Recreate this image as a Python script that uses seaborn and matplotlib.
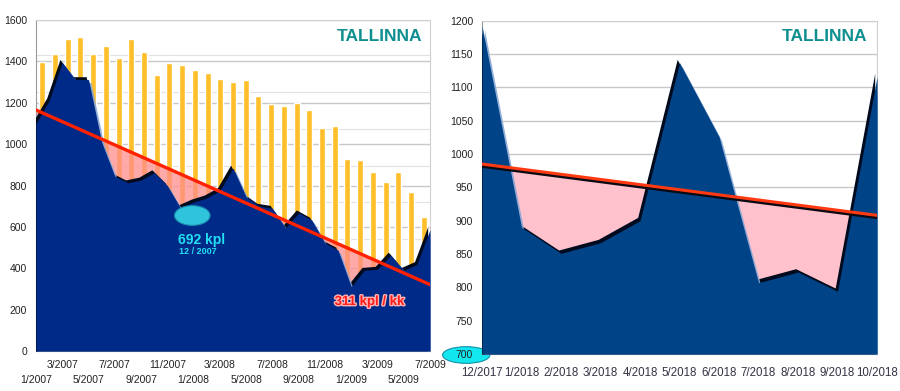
"""
Tallinna: monthly counts 2007-2009 and 2017-2018 with trend lines
"""
import matplotlib
matplotlib.use("Agg")
import matplotlib.pyplot as plt
import matplotlib.patheffects as pe
from matplotlib.patches import Ellipse
import seaborn as sns
import numpy as np

# ---- data: left panel (1/2007 .. 7/2009) ----
left_months = list(range(31))
left_bars = [1395, 1437, 1510, 1520, 1434, 1476, 1418, 1510, 1445, 1336,
             1391, 1384, 1359, 1344, 1313, 1299, 1310, 1233, 1194, 1185,
             1201, 1164, 1080, 1086, 929, 922, 866, 819, 866, 768, 650]
left_area = [1100, 1210, 1395, 1312, 1312, 1010, 845, 813, 826, 862,
             800, 692, 720, 740, 775, 885, 745, 700, 690, 595,
             668, 633, 522, 488, 311, 390, 395, 464, 390, 418, 587]
left_trend_x = [0, 30]
left_trend_y = [1165, 321]
left_ticklabels = ["1/2007", "3/2007", "5/2007", "7/2007", "9/2007", "11/2007",
                   "1/2008", "3/2008", "5/2008", "7/2008", "9/2008", "11/2008",
                   "1/2009", "3/2009", "5/2009", "7/2009"]

# ---- data: right panel (12/2017 .. 10/2018) ----
right_months = list(range(11))
right_area = [1192, 890, 851, 867, 900, 1137, 1026, 807, 823, 794, 1116]
right_trend_x = [0, 10]
right_trend_y = [985, 908]
right_ticklabels = ["12/2017", "1/2018", "2/2018", "3/2018", "4/2018", "5/2018",
                    "6/2018", "7/2018", "8/2018", "9/2018", "10/2018"]

sns.set_style("white")
plt.rcParams['font.family'] = ['Liberation Sans', 'DejaVu Sans']

fig = plt.figure(figsize=(9, 3.91), dpi=100)
ax1 = fig.add_axes([0.04, 0.1023, 0.4378, 0.8465])
ax2 = fig.add_axes([0.5356, 0.0946, 0.4389, 0.8524])


def shaded_area(ax, x, y, base, color, dx, dy):
    x = np.asarray(x, dtype=float)
    y = np.asarray(y, dtype=float)
    # dark shadow on rising edges, light rim on falling edges
    ax.fill_between(x - dx, y + dy, base, color='#000a1e', zorder=3, lw=0)
    ax.fill_between(x + dx, y - dy, base, color='#86a6d6', alpha=0.9, zorder=3, lw=0)
    ax.fill_between(x, y, base, color=color, zorder=4, lw=0)


def style_axes(ax):
    ax.set_axisbelow(True)
    for side in ['top', 'right']:
        ax.spines[side].set_color('#d0d0d0')
    for side in ['left', 'bottom']:
        ax.spines[side].set_color('#9a9a9a')
    ax.tick_params(axis='both', which='both', color='#9a9a9a', length=3,
                   labelcolor='#222222')


# ---------------- left panel ----------------
lx = np.array(left_months, dtype=float)
ly = np.array(left_area, dtype=float)
ltrend = np.interp(lx, left_trend_x, left_trend_y)
# bars sit at the centres of 31 equal category slots across the axis
bar_x = (lx + 0.5) * 30 / 31

ax1.grid(axis='y', color='#c8c8c8', lw=1, zorder=0)
for gy in np.arange(1430, 0, -178):
    ax1.axhline(gy, color='#e2e2e2', lw=0.8, zorder=0)

sns.barplot(x=bar_x, y=left_bars, native_scale=True, color='#ffbf2a',
            saturation=1, width=0.47, errorbar=None, ax=ax1, zorder=1)
ax1.fill_between(lx, ly, ltrend, where=ltrend > ly, interpolate=True,
                 color='#ff8c8c', alpha=0.75, zorder=2, lw=0)
shaded_area(ax1, lx, ly, 0, '#002a88', 0.18, 14)
sns.lineplot(x=left_trend_x, y=left_trend_y, color='#ff2200', lw=2.4,
             ax=ax1, zorder=6)

ax1.add_patch(Ellipse((11.9, 655), 2.7, 95, facecolor='#30c4dc',
                      edgecolor='#1a8fb0', lw=0.8, zorder=7))
ax1.text(12.6, 536, "692 kpl", color='#22e0f2', fontsize=10, fontweight='bold',
         ha='center', va='center', zorder=8)
ax1.text(12.3, 483, "12 / 2007", color='#22e0f2', fontsize=6.5,
         fontweight='bold', ha='center', va='center', zorder=8)
ax1.text(25.4, 237, "311 kpl / kk", color='#ff1a1a', fontsize=9.5,
         fontweight='bold', ha='center', va='center', zorder=8,
         path_effects=[pe.withStroke(linewidth=2, foreground='#ffb3b3')])
ax1.text(0.98, 0.949, "TALLINNA", transform=ax1.transAxes, color='#0f8f8f',
         fontsize=12.5, fontweight='bold', ha='right', va='center', zorder=8)

ax1.set_xlim(0, 30)
ax1.set_ylim(0, 1600)
ax1.set_yticks(np.arange(0, 1601, 200))
ax1.set_yticks(np.arange(0, 1601, 100), minor=True)
ax1.set_xticks(np.arange(0, 31, 2))
ax1.set_xticks(np.arange(0, 31, 1), minor=True)
ax1.set_xticklabels(left_ticklabels, fontsize=7.5)
ax1.tick_params(axis='y', labelsize=7.5)
ax1.set_xlabel("")
ax1.set_ylabel("")
style_axes(ax1)
# alternate the month labels on two rows
for i, tick in enumerate(ax1.xaxis.get_major_ticks()):
    tick.set_pad(14 if i % 2 == 0 else 3.5)

# ---------------- right panel ----------------
rx = np.array(right_months, dtype=float)
ry = np.array(right_area, dtype=float)
rtrend = np.interp(rx, right_trend_x, right_trend_y)

ax2.grid(axis='y', color='#c8c8c8', lw=1, zorder=0)
ax2.fill_between(rx, ry, rtrend, where=rtrend > ry, interpolate=True,
                 color='#ffc2cc', zorder=2, lw=0)
shaded_area(ax2, rx, ry, 700, '#004386', 0.06, 5)
ax2.plot(right_trend_x, [v - 3 for v in right_trend_y], color='#0a0a14',
         lw=2.6, zorder=5)
sns.lineplot(x=right_trend_x, y=right_trend_y, color='#ff3a12', lw=2.2,
             ax=ax2, zorder=6)
ax2.text(0.975, 0.952, "TALLINNA", transform=ax2.transAxes, color='#0f8f8f',
         fontsize=12.5, fontweight='bold', ha='right', va='center', zorder=8)
# cyan marker behind the "700" label
ax2.add_patch(Ellipse((-0.04, -0.003), 0.12, 0.05, transform=ax2.transAxes,
                      facecolor='#12e6ee', edgecolor='#1590a8', lw=0.8,
                      clip_on=False, zorder=0.4))

ax2.set_xlim(0, 10)
ax2.set_ylim(700, 1200)
ax2.set_yticks(np.arange(700, 1201, 50))
ax2.set_xticks(right_months)
ax2.set_xticklabels(right_ticklabels, fontsize=8.3)
ax2.set_xlabel("")
ax2.set_ylabel("")
style_axes(ax2)
ax2.tick_params(axis='y', labelsize=7.5)
ax2.tick_params(axis='x', pad=6, labelcolor='#333344')

fig.savefig("out.png", dpi=100)
